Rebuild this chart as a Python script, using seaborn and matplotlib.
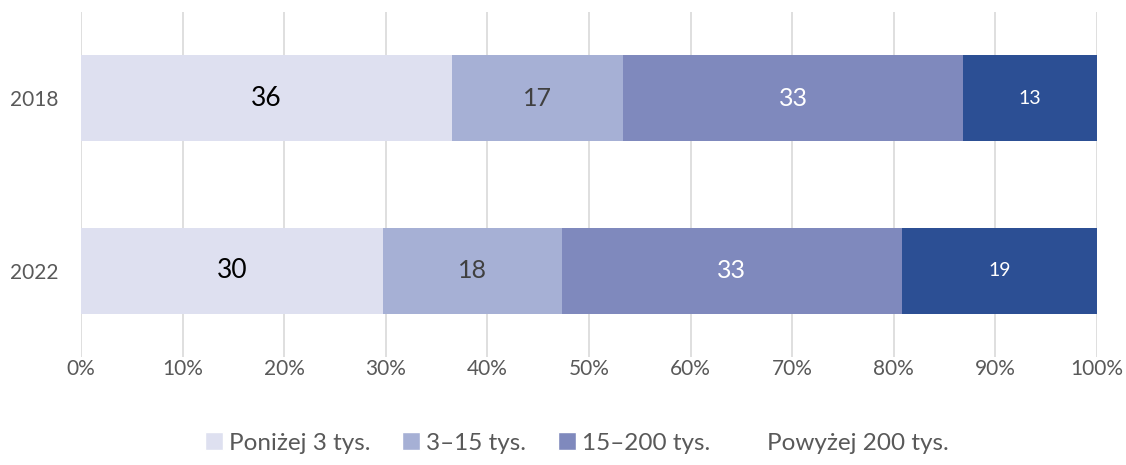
import matplotlib
matplotlib.use("Agg")
import matplotlib.pyplot as plt
from matplotlib.patches import Patch
import seaborn as sns
import pandas as pd
import numpy as np

years = ["2018", "2022"]
series = ["Poniżej 3 tys.", "3–15 tys.", "15–200 tys.", "Powyżej 200 tys."]
vals_2018 = [36.5, 16.9, 33.4, 13.2]
vals_2022 = [29.7, 17.6, 33.5, 19.2]
labels_2018 = ["36", "17", "33", "13"]
labels_2022 = ["30", "18", "33", "19"]
xticks = [0, 10, 20, 30, 40, 50, 60, 70, 80, 90, 100]

colors = ["#DEE0F0", "#A6B0D5", "#7F89BD", "#2C4F94"]
label_colors = ["#000000", "#404040", "#FFFFFF", "#FFFFFF"]
label_sizes = [19, 18, 18, 14]

sns.set_theme(style="white")
plt.rcParams["font.family"] = ["Lato", "DejaVu Sans"]

fig = plt.figure(figsize=(11.26, 4.65), dpi=100)
ax = fig.add_axes([0.0719, 0.232, 0.9023, 0.742])

vals = np.array([vals_2018, vals_2022])
cum = np.cumsum(vals, axis=1)
cum = cum / cum[:, -1:] * 100

for i in range(len(series) - 1, -1, -1):
    df = pd.DataFrame({"year": years, "v": cum[:, i]})
    sns.barplot(data=df, x="v", y="year", orient="h", color=colors[i],
                width=0.5, saturation=1, ax=ax, linewidth=0, zorder=3)

labels = [labels_2018, labels_2022]
for r in range(2):
    for i in range(len(series)):
        left = 0 if i == 0 else cum[r, i - 1]
        mid = (left + cum[r, i]) / 2
        ax.text(mid, r, labels[r][i], ha="center", va="center",
                color=label_colors[i], fontsize=label_sizes[i], zorder=5)

ax.set_xlim(0, 100)
ax.set_ylim(1.5, -0.5)
ax.set_xticks(xticks)
ax.set_xticklabels([f"{t}%" for t in xticks], fontsize=15, color="#595959")
ax.tick_params(axis="y", labelsize=15, labelcolor="#595959", length=0, pad=16)
ax.tick_params(axis="x", length=0, pad=1)
ax.set_xlabel("")
ax.set_ylabel("")
ax.xaxis.grid(True, color="#D9D9D9", linewidth=1.2, zorder=0)
ax.set_axisbelow(True)
for s in ax.spines.values():
    s.set_visible(False)

handles = [Patch(facecolor=colors[0]), Patch(facecolor=colors[1]),
           Patch(facecolor=colors[2]), Patch(facecolor="none", edgecolor="none")]
fig.legend(handles, series, loc="center", bbox_to_anchor=(0.512, 0.047), ncol=4,
           frameon=False, fontsize=17.5, handlelength=0.75, handleheight=0.75,
           handletextpad=0.25, columnspacing=1.3, labelcolor="#595959")

fig.savefig("out.png", dpi=100)
